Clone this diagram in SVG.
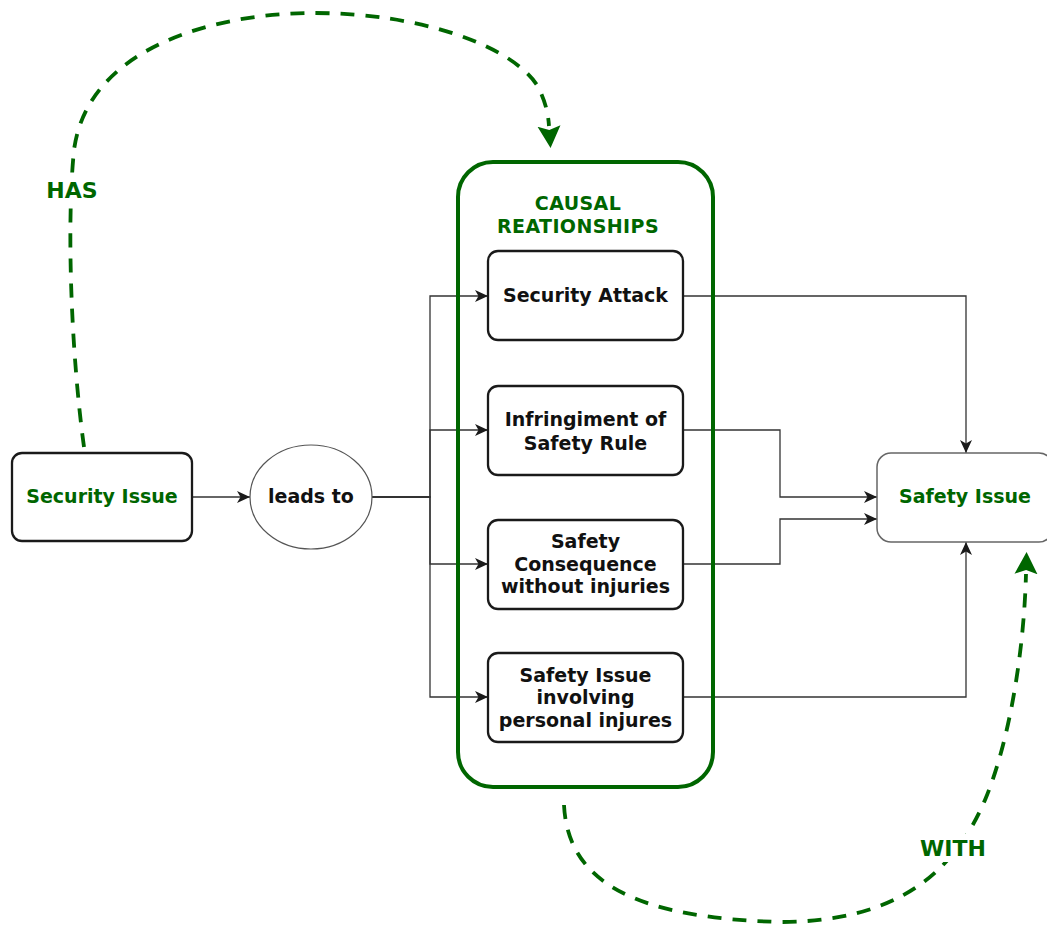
<svg xmlns="http://www.w3.org/2000/svg" width="1047" height="927" viewBox="0 0 1047 927">
  <style>
    .lbl { font-family: "DejaVu Sans", Verdana, sans-serif; font-weight: bold; font-size: 19px; text-anchor: middle; fill: #111111; }
    .green { fill: #006600; }
    .edge-lbl { font-family: "DejaVu Sans", Verdana, sans-serif; font-weight: bold; font-size: 22px; text-anchor: middle; fill: #006600; }
    .box { fill: #ffffff; stroke: #1a1a1a; stroke-width: 2.3; }
    .wire { fill: none; stroke: #333333; stroke-width: 1.3; }
    .dash { fill: none; stroke: #006600; stroke-width: 3.8; stroke-dasharray: 14 11; }
  </style>
  <defs>
    <marker id="arrow" markerUnits="userSpaceOnUse" markerWidth="13" markerHeight="13" viewBox="0 0 13 13" refX="13" refY="6.5" orient="auto">
      <path d="M0,0.5 L13,6.5 L0,12.5 L3.5,6.5 Z" fill="#1a1a1a"/>
    </marker>
    <marker id="greenArrow" markerUnits="userSpaceOnUse" markerWidth="24" markerHeight="24" viewBox="0 0 24 24" refX="0" refY="12" orient="auto">
      <path d="M0,0.5 L22,12 L0,23.5 L4,12 Z" fill="#006600"/>
    </marker>
  </defs>

  <rect width="1047" height="927" fill="#ffffff"/>

  <!-- connectors -->
  <g id="connectors">
    <path class="wire" d="M192,497 H250" marker-end="url(#arrow)"/>
    <path class="wire" d="M372,497 H430 V296 H488" marker-end="url(#arrow)" stroke-width="1.6"/>
    <path class="wire" d="M372,497 H430 V430 H488" marker-end="url(#arrow)" stroke-width="1.6"/>
    <path class="wire" d="M372,497 H430 V564 H488" marker-end="url(#arrow)" stroke-width="1.6"/>
    <path class="wire" d="M372,497 H430 V697 H488" marker-end="url(#arrow)" stroke-width="1.6"/>
    <path class="wire" d="M683,296 H966 V453" marker-end="url(#arrow)"/>
    <path class="wire" d="M683,430 H780 V497 H877" marker-end="url(#arrow)"/>
    <path class="wire" d="M683,564 H780 V519 H877" marker-end="url(#arrow)"/>
    <path class="wire" d="M683,697 H966 V542" marker-end="url(#arrow)"/>

    <!-- HAS -->
    <path class="dash" d="M84,447 C72,360 66,230 74,150 C88,45 220,13 313,13 C420,13 510,45 537,85 C545,100 548,112 549,126" marker-end="url(#greenArrow)"/>
    <rect x="44" y="176" width="58" height="28" fill="#ffffff"/>
    <text class="edge-lbl" x="72" y="198">HAS</text>

    <!-- WITH -->
    <path class="dash" d="M564,805 C568,885 640,918 780,922 C900,922 955,870 985,800 C1010,740 1024,650 1026,574" marker-end="url(#greenArrow)"/>
    <rect x="914" y="834" width="78" height="28" fill="#ffffff"/>
    <text class="edge-lbl" x="953" y="856">WITH</text>
  </g>

  <!-- container -->
  <g id="causal-relationships">
    <rect x="458" y="162" width="255" height="625" rx="35" fill="none" stroke="#006600" stroke-width="4"/>
    <text class="lbl green" x="578" y="210" letter-spacing="0.4">CAUSAL</text>
    <text class="lbl green" x="578" y="233" letter-spacing="0.4">REATIONSHIPS</text>
  </g>

  <g id="security-issue">
    <rect class="box" x="12" y="453" width="180" height="88" rx="10"/>
    <text class="lbl green" x="102" y="503">Security Issue</text>
  </g>

  <g id="leads-to">
    <ellipse cx="311" cy="497" rx="61" ry="52" fill="#ffffff" stroke="#555555" stroke-width="1.2"/>
    <text class="lbl" x="311" y="503">leads to</text>
  </g>

  <g id="security-attack">
    <rect class="box" x="488" y="251" width="195" height="89" rx="10"/>
    <text class="lbl" x="585.5" y="302">Security Attack</text>
  </g>

  <g id="infringement">
    <rect class="box" x="488" y="386" width="195" height="89" rx="10"/>
    <text class="lbl" x="585.5" y="426">Infringiment of</text>
    <text class="lbl" x="585.5" y="450">Safety Rule</text>
  </g>

  <g id="safety-consequence">
    <rect class="box" x="488" y="520" width="195" height="89" rx="10"/>
    <text class="lbl" x="585.5" y="548">Safety</text>
    <text class="lbl" x="585.5" y="571">Consequence</text>
    <text class="lbl" x="585.5" y="593">without injuries</text>
  </g>

  <g id="personal-injuries">
    <rect class="box" x="488" y="653" width="195" height="89" rx="10"/>
    <text class="lbl" x="585.5" y="682">Safety Issue</text>
    <text class="lbl" x="585.5" y="704">involving</text>
    <text class="lbl" x="585.5" y="727">personal injures</text>
  </g>

  <g id="safety-issue">
    <rect x="877" y="453" width="176" height="89" rx="14" fill="#ffffff" stroke="#666666" stroke-width="1.5"/>
    <text class="lbl green" x="965" y="503">Safety Issue</text>
  </g>
</svg>
